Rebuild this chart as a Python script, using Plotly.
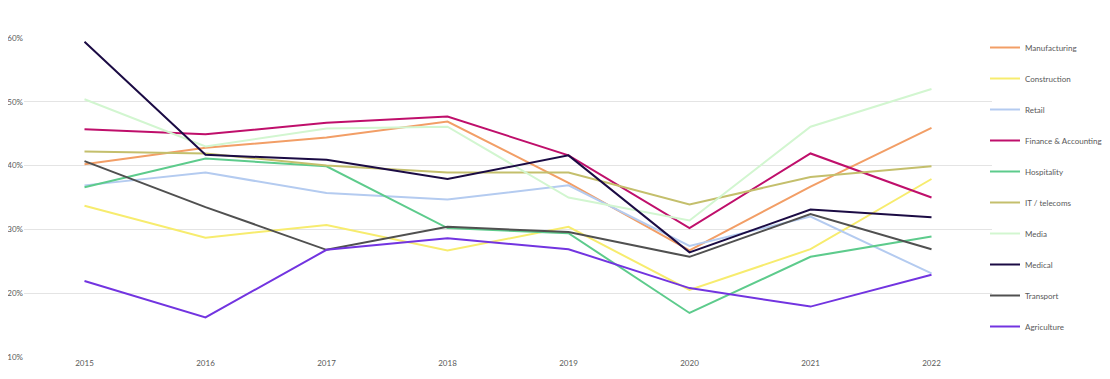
import plotly.graph_objects as go

years = ["2015", "2016", "2017", "2018", "2019", "2020", "2021", "2022"]

manufacturing = [40.2, 42.8, 44.4, 46.9, 37.3, 26.7, 36.7, 45.9]
construction = [33.7, 28.7, 30.7, 26.7, 30.4, 20.5, 26.9, 37.9]
retail = [36.9, 38.9, 35.7, 34.7, 36.9, 27.4, 32.0, 23.1]
finance = [45.7, 44.9, 46.7, 47.7, 41.6, 30.2, 41.9, 35.0]
hospitality = [36.6, 41.1, 39.9, 30.2, 29.4, 16.9, 25.7, 28.9]
it_telecoms = [42.2, 41.9, 40.0, 38.9, 38.9, 33.9, 38.2, 39.9]
media = [50.4, 43.0, 45.8, 46.1, 35.0, 31.4, 46.1, 52.0]
medical = [59.4, 41.7, 40.9, 37.9, 41.6, 26.4, 33.1, 31.9]
transport = [40.7, 33.5, 26.8, 30.4, 29.6, 25.7, 32.4, 26.9]
agriculture = [21.9, 16.2, 26.8, 28.6, 26.9, 20.8, 17.9, 22.9]

series = [
    ("Manufacturing", manufacturing, "#F29E66"),
    ("Construction", construction, "#F7EC6E"),
    ("Retail", retail, "#B4CBF0"),
    ("Finance & Accounting", finance, "#BF0F6B"),
    ("Hospitality", hospitality, "#5DCB8C"),
    ("IT / telecoms", it_telecoms, "#C4BF6C"),
    ("Media", media, "#D2F6D0"),
    ("Medical", medical, "#1B0B44"),
    ("Transport", transport, "#505050"),
    ("Agriculture", agriculture, "#7234E0"),
]

fig = go.Figure()
for i, (name, vals, color) in enumerate(series):
    fig.add_trace(go.Scatter(
        x=years, y=vals, name=name, mode="lines",
        line=dict(color=color, width=2),
        legendgroup=f"g{i}",
    ))

W, H = 1102, 371  # page body has an 8px margin inside the 1110x379 window

fig.update_layout(
    width=W, height=H,
    margin=dict(l=16, r=118, t=30, b=22, autoexpand=False),
    plot_bgcolor="white", paper_bgcolor="white",
    font=dict(family="Lato, 'Open Sans', sans-serif", size=8, color="#595959"),
    showlegend=True,
    legend=dict(
        xref="container", yref="container",
        x=977 / W, y=1 - 25 / H, xanchor="left", yanchor="top",
        font=dict(size=8, color="#595959"),
        tracegroupgap=12,
        itemwidth=30,
        maxheight=1,
        bgcolor="rgba(0,0,0,0)",
    ),
    xaxis=dict(
        type="category", range=[-0.5, 7.5], automargin=False,
        showgrid=False, showline=False, zeroline=False,
        ticks="", tickfont=dict(size=8, color="#595959"),
    ),
    yaxis=dict(
        range=[10, 60], dtick=10, ticksuffix="%", automargin=False,
        showgrid=True, gridcolor="#E4E4E4", gridwidth=1,
        zeroline=False, showline=False, ticks="",
        tickfont=dict(size=8, color="#595959"),
    ),
)

fig.write_html("out.html")
